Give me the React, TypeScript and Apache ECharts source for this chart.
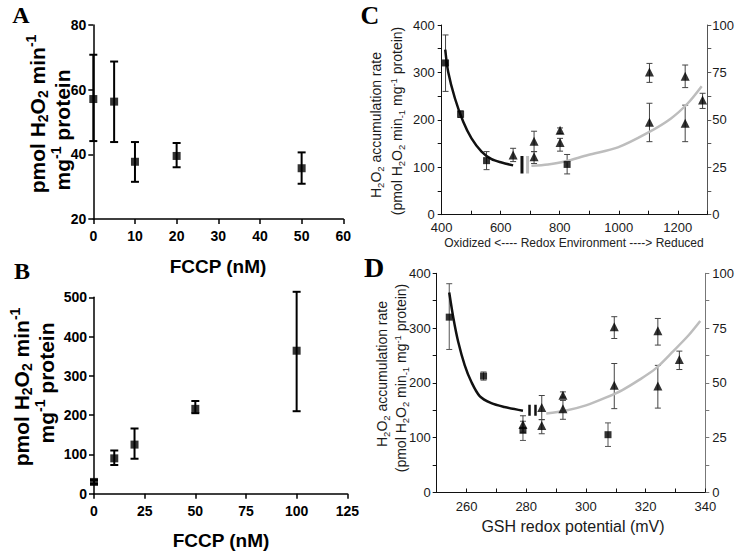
import React, { useEffect, useRef } from 'react';
import * as echarts from 'echarts';

// ---------- Panel A ----------
const aX = [0, 5, 10, 20, 50];
const aY = [57.1, 56.3, 37.7, 39.5, 35.7];
const aLow = [44.1, 43.8, 31.5, 36.0, 30.9];
const aHigh = [70.8, 68.7, 43.8, 43.5, 40.6];

// ---------- Panel B ----------
const bX = [0, 10, 20, 50, 100];
const bY = [30, 90, 125, 216, 364];
const bLow = [25, 73, 89, 205, 210];
const bHigh = [35, 110, 166, 236, 514];

// ---------- Panel C ----------
const cSqX = [413, 464, 552, 825];
const cSqY = [320, 212, 114, 106];
const cSqLow = [260, 205, 95, 86];
const cSqHigh = [379, 219, 133, 127];
const cTriX = [642, 713, 713, 801, 801, 1104, 1104, 1225, 1225, 1284];
const cTriY = [31.5, 38.75, 30.5, 44.5, 38, 75.25, 48.75, 73, 48.25, 60.5];
const cTriLow = [28, 33.25, 27, 42.75, 33.5, 69.75, 38.5, 67, 38.5, 56];
const cTriHigh = [35, 44, 33.25, 45.75, 40.25, 79.75, 58.75, 78.9, 57.75, 64];
const cFitOxX = [412, 422, 445, 473, 501, 535, 569, 603, 642];
const cFitOxY = [348, 301, 245, 196, 161, 133, 117, 110, 104];
const cFitRedX = [704, 760, 817, 896, 997, 1099, 1177, 1234, 1281];
const cFitRedY = [103, 106, 112, 126, 142, 173, 203, 235, 271];
const cBreakX = [672, 691];
const cBreakY = [87, 124];

// ---------- Panel D ----------
const dSqX = [254.2, 265.7, 278.9, 307.4];
const dSqY = [320, 212.5, 113.5, 105.5];
const dSqLow = [261, 205, 95, 84];
const dSqHigh = [381, 220, 130, 127];
const dTriX = [278.9, 285.2, 285.2, 292.3, 292.3, 309.5, 309.5, 324.1, 324.1, 331.3];
const dTriY = [31, 38.75, 30.6, 44.35, 38.25, 75.6, 48.9, 73.75, 48.6, 60.7];
const dTriLow = [27.5, 33.25, 26.8, 43.5, 33.4, 70.25, 38.25, 67.25, 38.5, 56.1];
const dTriHigh = [35, 44.25, 33.25, 45.9, 42, 80.2, 58.85, 79.4, 58, 64.5];
const dFitOxX = [254.2, 255.6, 257.2, 259.4, 261.6, 264.4, 268.3, 272.7, 278.9];
const dFitOxY = [365, 318, 275, 232, 202, 176, 163, 156, 149];
const dFitRedX = [286.7, 293, 300, 306.6, 312.2, 317.7, 323.3, 328.9, 334.4, 338.3];
const dFitRedY = [144, 149, 159, 173, 187, 205, 226, 256, 287, 313];
const dBreakX = [281.1, 283.1];
const dBreakY = [140, 160];

const SANS = '"Liberation Sans", Arial, sans-serif';
const SERIF = '"Liberation Serif", "Times New Roman", serif';

const pairs = (xs: number[], ys: number[]) => xs.map((x, i) => [x, ys[i]]);

function errorSeries(xi: number, yi: number, xs: number[], lows: number[], highs: number[], color: string, width: number, cap: number) {
  return {
    type: 'custom',
    xAxisIndex: xi,
    yAxisIndex: yi,
    silent: true,
    clip: false,
    z: 2,
    data: xs.map((x, i) => [x, lows[i], highs[i]]),
    encode: { x: 0, y: [1, 2] },
    renderItem: (params: any, api: any) => {
      const x = api.value(0);
      const p1 = api.coord([x, api.value(2)]);
      const p2 = api.coord([x, api.value(1)]);
      const h = cap / 2;
      const st = { stroke: color, lineWidth: width };
      return {
        type: 'group',
        children: [
          { type: 'line', shape: { x1: p1[0], y1: p1[1], x2: p2[0], y2: p2[1] }, style: st },
          { type: 'line', shape: { x1: p1[0] - h, y1: p1[1], x2: p1[0] + h, y2: p1[1] }, style: st },
          { type: 'line', shape: { x1: p2[0] - h, y1: p2[1], x2: p2[0] + h, y2: p2[1] }, style: st },
        ],
      };
    },
  };
}

function scatter(xi: number, yi: number, xs: number[], ys: number[], symbol: string, size: number) {
  return {
    type: 'scatter',
    xAxisIndex: xi,
    yAxisIndex: yi,
    symbol,
    symbolSize: size,
    itemStyle: { color: '#000' },
    z: 4,
    silent: true,
    data: pairs(xs, ys),
  };
}

function curve(xi: number, yi: number, xs: number[], ys: number[], color: string, width: number, smooth: number) {
  return {
    type: 'line',
    xAxisIndex: xi,
    yAxisIndex: yi,
    showSymbol: false,
    smooth,
    silent: true,
    z: 3,
    lineStyle: { color, width },
    data: pairs(xs, ys),
  };
}

function boldAxis(extra: any) {
  return {
    type: 'value',
    splitLine: { show: false },
    axisLine: { show: true, onZero: false, lineStyle: { color: '#000', width: 1.5 } },
    axisTick: { show: true, length: 5, lineStyle: { color: '#000', width: 1.5 } },
    ...extra,
  };
}

function thinAxis(extra: any, color = '#111', labelFmt?: (v: number) => string, margin = 6) {
  return {
    type: 'value',
    splitLine: { show: false },
    axisLine: { show: true, onZero: false, lineStyle: { color, width: 1 } },
    axisTick: { show: true, length: 4, lineStyle: { color, width: 1 } },
    axisLabel: { color: '#1a1a1a', fontFamily: SANS, fontSize: 13, formatter: labelFmt, margin },
    ...extra,
  };
}

const boldLabel = (margin: number) => ({ color: '#000', fontFamily: SANS, fontWeight: 'bold', fontSize: 14, margin });

const by = (n: number) => (v: number) => (Math.abs(v % n) < 1e-6 ? String(v) : '');

function txt(x: number, y: number, text: string, font: any, rotate = false, rich?: any) {
  return {
    type: 'text',
    x,
    y,
    rotation: rotate ? Math.PI / 2 : 0,
    silent: true,
    z: 10,
    style: {
      text,
      fill: font.color || '#000',
      fontFamily: font.family || SANS,
      fontSize: font.size,
      fontWeight: font.weight || 'normal',
      align: 'center',
      verticalAlign: 'middle',
      textAlign: 'center',
      textVerticalAlign: 'middle',
      rich,
    },
  };
}

function richSet(size: number, sub: number, weight: string, color: string, lh: number) {
  const base = { fontFamily: SANS, fontWeight: weight, fill: color, color };
  return {
    n: { ...base, fontSize: size, lineHeight: lh },
    s: { ...base, fontSize: sub, lineHeight: sub, verticalAlign: 'bottom' },
    p: { ...base, fontSize: sub, lineHeight: sub, verticalAlign: 'top' },
  };
}

export default function App() {
  const ref = useRef<HTMLDivElement>(null);
  useEffect(() => {
    document.body.style.margin = '0';
    const chart = echarts.init(ref.current!, null, { renderer: 'svg' });
    const richAB = richSet(21, 14, 'bold', '#000', 26);
    const richCD = richSet(14, 9.5, 'normal', '#1a1a1a', 18);
    const option: any = {
      animation: false,
      backgroundColor: '#fff',
      grid: [
        { left: 93.3, top: 25, width: 250, height: 194 },
        { left: 94, top: 297.3, width: 253.3, height: 196.4 },
        { left: 441.7, top: 25, width: 266, height: 189.7 },
        { left: 436.7, top: 273.3, width: 271.6, height: 219.2 },
      ],
      xAxis: [
        boldAxis({ gridIndex: 0, min: 0, max: 60, interval: 10, axisLabel: boldLabel(10) }),
        boldAxis({ gridIndex: 1, min: 0, max: 125, interval: 25, axisLabel: boldLabel(10) }),
        thinAxis({ gridIndex: 2, min: 400, max: 1300, interval: 100, axisTick: { show: true, inside: true, length: 4, lineStyle: { color: '#111' } } }, '#111', (v: number) => (v % 200 === 0 && v <= 1200 ? String(v) : ''), 6),
        thinAxis({ gridIndex: 3, min: 250, max: 340, interval: 10, axisTick: { show: true, inside: true, length: 4, lineStyle: { color: '#111' } } }, '#111', by(20), 7),
      ],
      yAxis: [
        boldAxis({ gridIndex: 0, min: 20, max: 80, interval: 20, axisLabel: boldLabel(7) }),
        boldAxis({ gridIndex: 1, min: 0, max: 500, interval: 100, axisLabel: boldLabel(7) }),
        thinAxis({ gridIndex: 2, min: 0, max: 400, interval: 50 }, '#111', by(100), 7),
        thinAxis({ gridIndex: 2, min: 0, max: 100, interval: 12.5, position: 'right' }, '#555', by(25), 5),
        thinAxis({ gridIndex: 3, min: 0, max: 400, interval: 50 }, '#111', by(100), 6),
        thinAxis({ gridIndex: 3, min: 0, max: 100, interval: 12.5, position: 'right' }, '#777', by(25), 7),
      ],
      series: [
        // A
        errorSeries(0, 0, aX, aLow, aHigh, '#000', 2, 8),
        scatter(0, 0, aX, aY, 'rect', 8),
        // B
        errorSeries(1, 1, bX, bLow, bHigh, '#000', 2, 8),
        scatter(1, 1, bX, bY, 'rect', 8),
        // C
        curve(2, 2, cFitOxX, cFitOxY, '#111', 2.5, 0.3),
        curve(2, 2, cFitRedX, cFitRedY, '#bdbdbd', 2.5, 0.3),
        curve(2, 2, [cBreakX[0], cBreakX[0]], cBreakY, '#111', 3, 0),
        curve(2, 2, [cBreakX[1], cBreakX[1]], cBreakY, '#bdbdbd', 3, 0),
        errorSeries(2, 2, cSqX, cSqLow, cSqHigh, '#444', 1, 6),
        errorSeries(2, 3, cTriX, cTriLow, cTriHigh, '#444', 1, 6),
        scatter(2, 2, cSqX, cSqY, 'rect', 7),
        scatter(2, 3, cTriX, cTriY, 'triangle', 9),
        // D
        curve(3, 4, dFitOxX, dFitOxY, '#111', 2.5, 0.3),
        curve(3, 4, dFitRedX, dFitRedY, '#bdbdbd', 2.5, 0.3),
        curve(3, 4, [dBreakX[0], dBreakX[0]], dBreakY, '#111', 2.5, 0),
        curve(3, 4, [dBreakX[1], dBreakX[1]], dBreakY, '#111', 2.5, 0),
        errorSeries(3, 4, dSqX, dSqLow, dSqHigh, '#555', 1, 6),
        errorSeries(3, 5, dTriX, dTriLow, dTriHigh, '#444', 1, 6),
        scatter(3, 4, dSqX, dSqY, 'rect', 7),
        scatter(3, 5, dTriX, dTriY, 'triangle', 9),
      ],
      graphic: [
        txt(21, 15, 'A', { family: SERIF, size: 24, weight: 'bold' }),
        txt(22, 271, 'B', { family: SERIF, size: 24, weight: 'bold' }),
        txt(370, 15, 'C', { family: SERIF, size: 26, weight: 'bold' }),
        txt(374, 267, 'D', { family: SERIF, size: 28, weight: 'bold' }),
        txt(218, 266, 'FCCP (nM)', { size: 19, weight: 'bold' }),
        txt(221, 540, 'FCCP (nM)', { size: 19, weight: 'bold' }),
        txt(37, 114, '{n|pmol H}{s|2}{n|O}{s|2}{n| min}{p|-1}', { size: 21, weight: 'bold' }, true, richAB),
        txt(62, 130, '{n|mg}{p|-1}{n| protein}', { size: 21, weight: 'bold' }, true, richAB),
        txt(21, 387, '{n|pmol H}{s|2}{n|O}{s|2}{n| min}{p|-1}', { size: 21, weight: 'bold' }, true, richAB),
        txt(46, 383, '{n|mg}{p|-1}{n| protein}', { size: 21, weight: 'bold' }, true, richAB),
        txt(574, 243, 'Oxidized <---- Redox Environment ----> Reduced', { size: 12, color: '#222' }),
        txt(376, 125, '{n|H}{s|2}{n|O}{s|2}{n| accumulation rate}', { size: 14, color: '#1a1a1a' }, true, richCD),
        txt(397, 121, '{n|(pmol H}{s|2}{n|O}{s|2}{n| min}{s|-1}{n| mg}{p|-1}{n| protein)}', { size: 14, color: '#1a1a1a' }, true, richCD),
        txt(573, 526, 'GSH redox potential (mV)', { size: 16, color: '#1a1a1a' }),
        txt(382, 374, '{n|H}{s|2}{n|O}{s|2}{n| accumulation rate}', { size: 14, color: '#1a1a1a' }, true, richCD),
        txt(401, 378, '{n|(pmol H}{s|2}{n|O}{s|2}{n| min}{s|-1}{n| mg}{p|-1}{n| protein)}', { size: 14, color: '#1a1a1a' }, true, richCD),
      ],
    };
    chart.setOption(option);
    return () => chart.dispose();
  }, []);
  return <div ref={ref} style={{ width: 737, height: 555 }} />;
}
